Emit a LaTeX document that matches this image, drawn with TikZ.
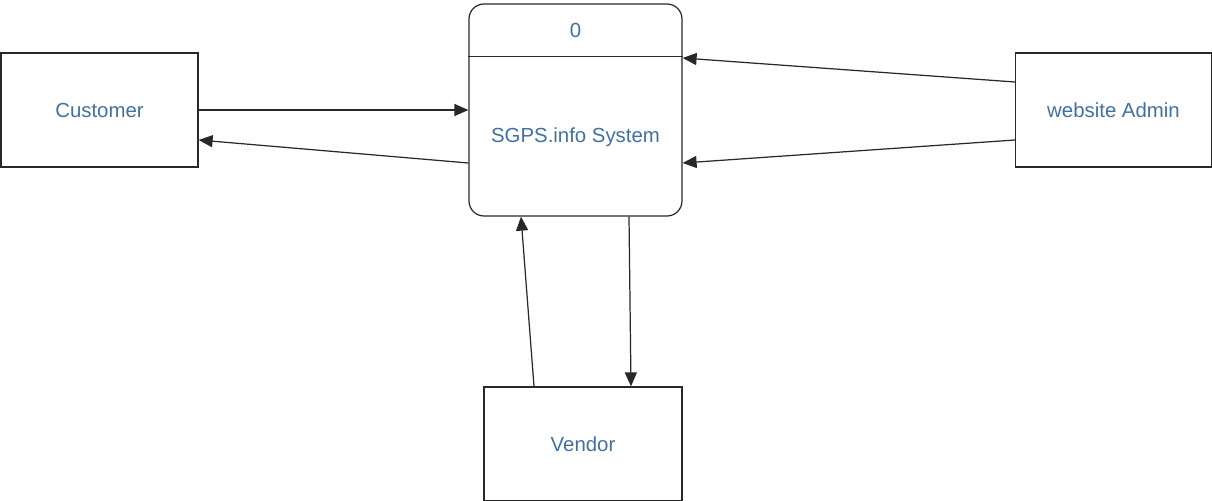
\documentclass[tikz,border=0pt]{standalone}
\usepackage{fontspec}
\setmainfont{Liberation Sans}
\usepackage{xcolor}
\usepackage{tikz}
\usetikzlibrary{arrows.meta,positioning,calc}
\definecolor{dfdtext}{RGB}{66,112,160}
\definecolor{dfdline}{RGB}{40,40,40}

\begin{document}
\begin{tikzpicture}[
    entity/.style={draw=dfdline, line width=0.7pt, minimum width=3.94cm, minimum height=2.28cm,
                   font=\fontsize{11.6}{13}\selectfont, text=dfdtext},
    process/.style={draw=dfdline, line width=0.7pt, rounded corners=0.3cm,
                    minimum width=4.26cm, minimum height=4.24cm},
    ptext/.style={font=\fontsize{11.6}{13}\selectfont, text=dfdtext},
    flow/.style={-{Triangle[length=0.28cm, width=0.24cm]}, line width=0.7pt, color=dfdline}
]
\useasboundingbox (0,0) rectangle (24.24,-10.02);

%% External entities
\node[entity] (cust) at (1.99,-2.2) {Customer};
\node[entity, minimum width=3.92cm] (adm) at (22.27,-2.2) {website Admin};
\node[entity, minimum width=3.96cm] (ven) at (11.66,-8.88) {Vendor};

%% Process 0
\node[process] (proc) at (11.51,-2.2) {};
\draw[dfdline, line width=0.7pt] ($(proc.north west)+(0,-1.06)$) -- ($(proc.north east)+(0,-1.06)$);
\node[ptext] (pnum) at ($(proc.north)+(0,-0.54)$) {0};
\node[ptext] (pname) at ($(proc.center)+(0,-0.54)$) {SGPS.info System};

%% Data flows
\draw[flow] (cust.east) -- (proc.west);
\draw[flow] ([yshift=-1.06cm]proc.west) -- ([yshift=-0.6cm]cust.east);
\draw[flow] ([yshift=0.56cm]adm.west) -- ([yshift=1.04cm]proc.east);
\draw[flow] ([yshift=-0.6cm]adm.west) -- ([yshift=-1.06cm]proc.east);
\draw[flow] ([xshift=-0.98cm]ven.north) -- ([xshift=-1.09cm]proc.south);
\draw[flow] ([xshift=1.07cm]proc.south) -- ([xshift=0.96cm]ven.north);

\end{tikzpicture}
\end{document}
